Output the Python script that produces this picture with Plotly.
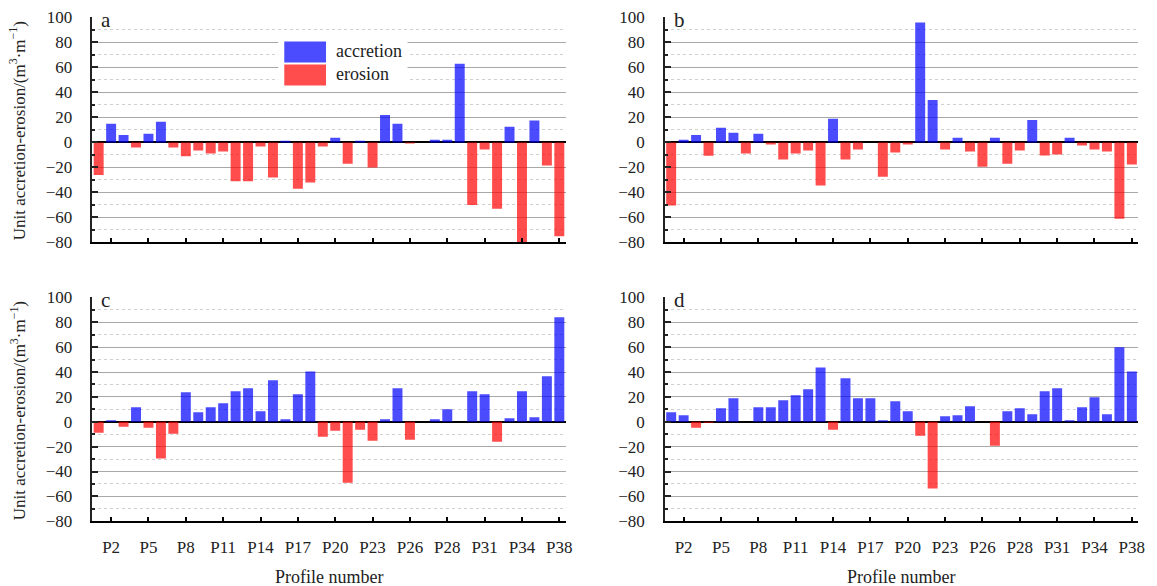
import plotly.graph_objects as go

W, H = 1157, 586

# ---- data ----
profile_pos = list(range(38))  # 38 profiles, in order along the coast
tick_pos = [1, 4, 7, 10, 13, 16, 19, 22, 25, 28, 31, 34, 37]
tick_labels = ["P2", "P5", "P8", "P11", "P14", "P17", "P20", "P23", "P26", "P28", "P31", "P34", "P38"]

values_a = [-26, 15, 6, -4, 7, 16.5, -4, -11, -6.4, -8.8, -7.2, -31, -31, -3.2, -28, 1.3,
            -37, -32, -3.2, 3.7, -17, 1.3, -20, 22, 15, -0.8, 0, 2.1, 2.1, 63,
            -50, -5.6, -53, 12.5, -81, 17.5, -18.5, -75]
values_b = [-50.5, 2.1, 6, -10.7, 11.7, 7.7, -8.8, 6.9, -1.6, -13.6, -8.8, -6.4, -34.5, 19,
            -13.6, -5.6, 0, -27.5, -8, -1.6, 96, 34, -5.6, 3.7, -7.2, -19.5, 3.7, -17,
            -6.4, 18, -10.4, -9.6, 3.7, -2.4, -5.6, -7.2, -61, -17.6]
values_c = [-8.8, 1.3, -4, 11.7, -4.8, -29.6, -9.6, 23.7, 7.7, 11.7, 14.9, 24.5, 27, 8.5,
            33.3, 2.1, 22.1, 40.5, -12, -7.2, -49, -6.4, -15.2, 2.1, 27, -14.4, 0, 2.1,
            10, 0, 24.5, 22.1, -16, 2.9, 24.5, 3.7, 36.5, 84]
values_d = [7.7, 5.3, -4.8, -0.8, 10.9, 18.9, 0, 11.7, 11.7, 17.3, 21.3, 26.1, 43.7, -6.4,
            35, 18.9, 18.9, 1.3, 16.5, 8.5, -11.2, -53.6, 4.5, 5.3, 12.5, 0, -19.2, 8.5,
            10.9, 6.1, 24.5, 27, 1.3, 11.7, 19.7, 6.1, 60, 40.5]

panels = [("a", values_a), ("b", values_b), ("c", values_c), ("d", values_d)]
legend_names = ["accretion", "erosion"]

BLUE = "rgba(0,0,255,0.70)"
RED = "rgba(255,0,0,0.70)"
FONT = "Liberation Serif, Times New Roman, serif"


def px(x):
    return x / W


def py(y):
    # compensate the vertical offset/scale observed in the rendered page
    yi = (y - 8.5) / 0.968
    return 1 - yi / H


# panel pixel boxes (x0, x1, ytop, ybottom) in target picture coordinates
boxes = [(93, 569, 17, 242), (669, 1145, 17, 242), (93, 569, 297, 521), (669, 1145, 297, 521)]

fig = go.Figure()
for k, ((letter, vals), (x0, x1, yt, yb)) in enumerate(zip(panels, boxes)):
    n = k + 1
    xa = "x" if n == 1 else f"x{n}"
    ya = "y" if n == 1 else f"y{n}"
    colors = [BLUE if v >= 0 else RED for v in vals]
    fig.add_trace(go.Bar(x=profile_pos, y=vals, marker=dict(color=colors, line=dict(width=0)),
                         width=0.8, xaxis=xa, yaxis=ya, showlegend=False))
    bottom = n >= 3
    fig.update_layout(**{
        ("xaxis" if n == 1 else f"xaxis{n}"): dict(
            domain=[px(x0), px(x1)], anchor=ya, range=[-0.5, 37.5],
            tickmode="array", tickvals=tick_pos, ticktext=tick_labels,
            showticklabels=bottom, ticks="inside", ticklen=5, tickwidth=1.5,
            tickcolor="black", showline=True, linecolor="black", linewidth=1.5,
            showgrid=False, zeroline=False, ticklabelstandoff=10,
            tickfont=dict(family=FONT, size=17, color="#222"),
        ),
        ("yaxis" if n == 1 else f"yaxis{n}"): dict(
            domain=[py(yb), py(yt)], anchor=xa, range=[-80, 100],
            tickmode="linear", tick0=-80, dtick=20,
            ticks="inside", ticklen=6, tickwidth=1.5, tickcolor="#222",
            showline=True, linecolor="#222", linewidth=1.5,
            showgrid=True, gridcolor="#a8a8a8", gridwidth=1,
            zeroline=True, zerolinecolor="black", zerolinewidth=1.5,
            minor=dict(dtick=10, ticks="inside", ticklen=3, tickcolor="#222",
                       showgrid=True, gridcolor="#d0d0d0", griddash="dot", gridwidth=1),
            ticklabelstandoff=15,
            tickfont=dict(family=FONT, size=17, color="#222"),
        ),
    })

annotations = []
shapes = []
# panel letters
for (letter, _), (x0, x1, yt, yb) in zip(panels, boxes):
    annotations.append(dict(text=letter, x=px(x0 + 7), y=py(yt + 3), xref="paper", yref="paper",
                            xanchor="left", yanchor="middle", showarrow=False,
                            font=dict(family=FONT, size=21, color="#222")))
# y titles
ytitle = "Unit accretion-erosion/(m<sup>3</sup>·m<sup>−1</sup>)"
for yc in (130, 410):
    annotations.append(dict(text=ytitle, x=px(18), y=py(yc), xref="paper", yref="paper",
                            textangle=-90, xanchor="center", yanchor="middle", showarrow=False,
                            font=dict(family=FONT, size=17, color="#222")))
# x titles
for xc in (331, 906):
    annotations.append(dict(text="Profile number", x=px(xc), y=py(577), xref="paper", yref="paper",
                            xanchor="center", yanchor="middle", showarrow=False,
                            font=dict(family=FONT, size=18, color="#222")))

# legend (panel a)
shapes.append(dict(type="rect", xref="paper", yref="paper", x0=px(280), x1=px(410),
                   y0=py(89), y1=py(33), fillcolor="white", line=dict(width=0), layer="above"))
shapes.append(dict(type="rect", xref="paper", yref="paper", x0=px(286), x1=px(328),
                   y0=py(62), y1=py(41), fillcolor=BLUE, line=dict(width=0), layer="above"))
shapes.append(dict(type="rect", xref="paper", yref="paper", x0=px(286), x1=px(328),
                   y0=py(85), y1=py(64), fillcolor=RED, line=dict(width=0), layer="above"))
for name, yc in zip(legend_names, (51, 74)):
    annotations.append(dict(text=name, x=px(336), y=py(yc), xref="paper", yref="paper",
                            xanchor="left", yanchor="middle", showarrow=False,
                            font=dict(family=FONT, size=18, color="#222")))

fig.update_layout(width=W, height=H, margin=dict(l=0, r=0, t=0, b=0),
                  paper_bgcolor="white", plot_bgcolor="white", bargap=0.2,
                  annotations=annotations, shapes=shapes, showlegend=False)

css_js = (
    "var s=document.createElement('style');"
    "s.textContent='html,body{margin:0!important;padding:0!important;}"
    ".main-svg{overflow:visible!important;}';"
    "document.head.appendChild(s);"
)
fig.write_html("out.html", config={"displayModeBar": False}, post_script=css_js)
